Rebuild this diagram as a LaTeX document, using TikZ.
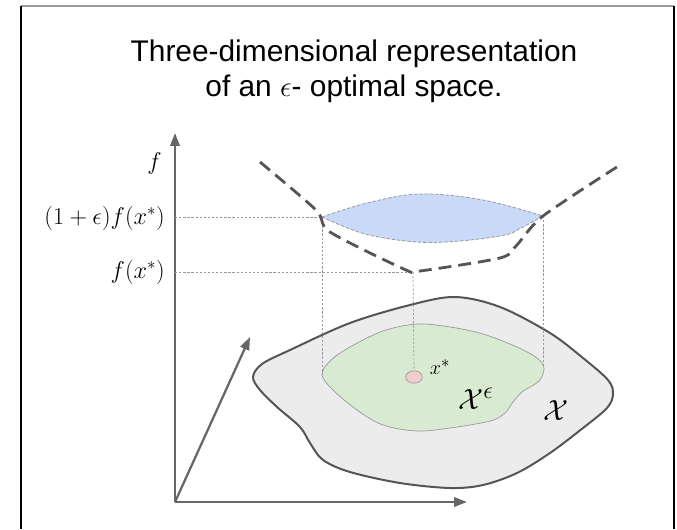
\documentclass[tikz,border=0pt]{standalone}
\usepackage{fontspec}
\newfontfamily\titlefont{Liberation Sans}
\usetikzlibrary{arrows.meta,shapes.geometric}
\definecolor{axisgray}{HTML}{666666}
\definecolor{curvegray}{HTML}{555555}
\definecolor{guidegray}{HTML}{9A9A9A}
\definecolor{bandblue}{HTML}{C9DAF8}
\definecolor{setgray}{HTML}{ECECEC}
\definecolor{setgreen}{HTML}{D9EAD3}
\definecolor{dotpink}{HTML}{F4CCCC}

\begin{document}
\begin{tikzpicture}[
    x=0.03cm, y=-0.03cm,
    font=\rmfamily,
    >={Triangle[length=11pt,width=8pt]},
    border/.style   = {line width=1.7pt},
    axisline/.style = {draw=axisgray, line width=1.9pt, ->},
    level/.style    = {draw=curvegray, line width=2.4pt, dash pattern=on 11pt off 6pt},
    band/.style     = {fill=bandblue, draw=guidegray, line width=0.7pt,
                       dash pattern=on 3pt off 1.5pt},
    guide/.style    = {draw=guidegray, line width=0.6pt, dash pattern=on 2pt off 1.5pt},
    feasible/.style = {fill=setgray, draw=curvegray, line width=1.7pt},
    epsset/.style   = {fill=setgreen, draw=guidegray, line width=0.6pt},
    optdot/.style   = {ellipse, fill=dotpink, draw=guidegray, line width=0.6pt,
                       minimum width=0.5cm, minimum height=0.37cm, inner sep=0pt},
    lbl/.style      = {font=\fontsize{20}{24}\selectfont, inner sep=0pt},
    ttl/.style      = {font=\titlefont\fontsize{25.5}{30}\selectfont, inner sep=0pt},
  ]
  \useasboundingbox (0,0) rectangle (677,529);

  % --- Frame -----------------------------------------------------------
  \coordinate (boxTL) at (21,6);
  \coordinate (boxTR) at (674,6);
  \coordinate (boxBL) at (21,529);
  \coordinate (boxBR) at (674,529);
  \draw[border, draw=guidegray] (boxTL) -- (boxTR);
  \draw[border] (boxTL) -- (boxBL);
  \draw[border] (boxTR) -- (boxBR);

  % --- Title -----------------------------------------------------------
  \node[ttl, anchor=base] (title1) at (354,61) {Three-dimensional representation};
  \node[ttl, anchor=base] (title2) at (354,96) {of an $\epsilon$- optimal space.};

  % --- Axes ------------------------------------------------------------
  \coordinate (origin) at (175,502);
  \coordinate (ftip)   at (175,133);
  \coordinate (xtip)   at (467,502);
  \coordinate (ytip)   at (250,337);
  \draw[axisline] (origin) -- (ftip);
  \draw[axisline] (origin) -- (xtip);
  \draw[axisline] (origin) -- (ytip);

  % --- Sets in the plane -----------------------------------------------
  \draw[feasible] plot[smooth cycle, tension=0.55] coordinates {
    (253,377) (262,364) (290,350) (350,323) (410,305) (455,297) (500,307)
    (550,333) (583,358) (608,380) (613,394) (607,408) (583,428) (550,453)
    (517,473) (483,485) (450,488) (400,483) (350,472) (323,460) (310,443)
    (300,427) (277,407) (260,390)};
  \draw[epsset] plot[smooth cycle, tension=0.55] coordinates {
    (322,375) (330,361) (350,347) (383,331) (417,324) (450,327) (483,334)
    (517,347) (537,358) (544,368) (539,381) (522,392) (513,402) (505,413)
    (490,421) (450,428) (417,431) (383,425) (357,410) (333,390)};

  \coordinate (epsL) at (322,217);
  \coordinate (epsR) at (543,216);
  \coordinate (fmin) at (413,272);
  \coordinate (nearL) at (322,375);
  \coordinate (nearR) at (543,367);

  \node[optdot] (xstar) at (414,377) {};

  % --- Guides ----------------------------------------------------------
  \draw[guide] (epsL -| origin) -- (epsL);
  \draw[guide] (fmin -| origin) -- (fmin);
  \draw[guide] (epsL) -- (nearL);
  \draw[guide] (epsR) -- (nearR);
  \draw[guide] (fmin) -- (xstar.north);

  % --- Level set and objective -----------------------------------------
  \draw[band] plot[smooth, tension=0.6] coordinates {
      (322,217) (367,203) (420,194) (483,200) (543,216)}
    -- plot[smooth, tension=0.6] coordinates {
      (543,216) (521,228) (505,235) (460,241) (417,242) (365,234) (322,217)}
    -- cycle;
  \draw[level] plot[smooth, tension=0.45] coordinates {
    (260,162) (316,210) (330,232) (406,270) (420,271) (500,258) (516,246)
    (543,216) (620,165)};

  % --- Labels ----------------------------------------------------------
  \node[lbl, anchor=east] (flbl)   at (162,163) {$f$};
  \node[lbl, anchor=east] (epslbl) at (165,218) {$(1+\epsilon)f(x^*)$};
  \node[lbl, anchor=east] (minlbl) at (165,272) {$f(x^*)$};
  \node[lbl, font=\fontsize{19}{22}\selectfont] (xslbl) at (440,367) {$x^*$};
  \node[lbl, font=\fontsize{28}{32}\selectfont] (Xelbl) at (476,399) {$\mathcal{X}^\epsilon$};
  \node[lbl, font=\fontsize{32}{36}\selectfont] (Xlbl)  at (556,411) {$\mathcal{X}$};

\end{tikzpicture}
\end{document}
